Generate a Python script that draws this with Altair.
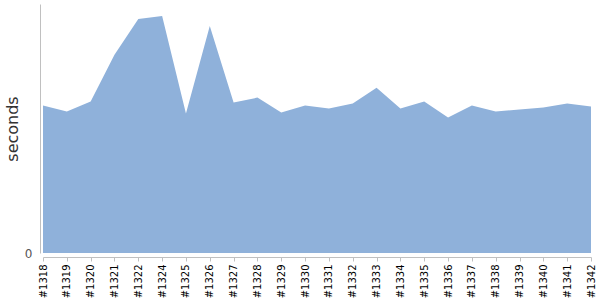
import altair as alt
import pandas as pd

builds = ["#1318", "#1319", "#1320", "#1321", "#1322", "#1324", "#1325", "#1326",
          "#1327", "#1328", "#1329", "#1330", "#1331", "#1332", "#1333", "#1334",
          "#1335", "#1336", "#1337", "#1338", "#1339", "#1340", "#1341", "#1342"]
seconds = [148, 142, 152, 199, 235, 238, 140, 228,
           151, 156, 141, 148, 145, 150, 166, 145,
           152, 136, 148, 142, 144, 146, 150, 147]

df = pd.DataFrame({"build": builds, "seconds": seconds})

chart = alt.Chart(df).mark_area(color="#8fb1da", opacity=1, interpolate="linear").encode(
    x=alt.X("build:N", sort=builds, scale=alt.Scale(type="point", padding=0),
            axis=alt.Axis(title=None, labelAngle=-90, labelAlign="right", labelBaseline="middle",
                          labelColor="#000", labelFont="DejaVu Sans", labelFontSize=10,
                          labelPadding=3, tickSize=4, tickColor="#c0c0c0",
                          domainColor="#c0c0c0", offset=4, grid=False)),
    y=alt.Y("seconds:Q", scale=alt.Scale(domain=[0, 250], nice=False),
            axis=alt.Axis(title="seconds", values=[0], labelColor="#555", labelFont="DejaVu Sans",
                          labelFontSize=12, ticks=False, labelPadding=8, domainColor="#c0c0c0",
                          offset=3, grid=False, titleFont="DejaVu Sans", titleFontSize=16,
                          titleFontWeight="normal", titleColor="#333", titlePadding=4)),
).properties(
    width=548, height=249,
    autosize=alt.AutoSizeParams(type="none"),
    padding={"left": 43, "top": 4, "right": 9, "bottom": 47},
).configure_view(stroke=None)

chart.save("out.html", embed_options={"renderer": "svg", "actions": False})
